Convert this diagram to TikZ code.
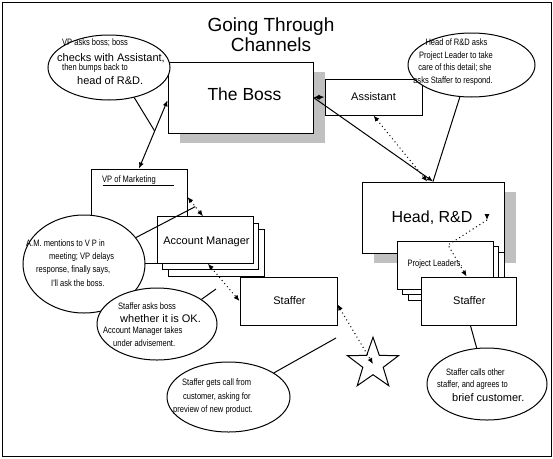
\documentclass[tikz,border=0pt]{standalone}
\usepackage{fontspec}
\setmainfont{Liberation Sans}
\newfontfamily\narrowfont[FakeStretch=0.81]{Liberation Sans}
\usetikzlibrary{shapes.geometric,arrows.meta,calc}
\definecolor{shadowgray}{HTML}{C0C0C0}
\tikzset{
  box/.style={draw, fill=white, line width=1pt, inner sep=0pt, rectangle},
  shadowbox/.style={fill=shadowgray, inner sep=0pt, rectangle},
  bubble/.style={draw, fill=white, line width=1pt, ellipse, inner sep=0pt},
  tip/.tip={Latex[length=6pt,width=5pt]},
  plainline/.style={line width=1pt},
  bothways/.style={line width=1pt, tip-tip},
  oneway/.style={line width=1pt, -tip},
  dotbothways/.style={line width=1pt, dash pattern=on 1pt off 3pt, tip-tip},
  dotoneway/.style={line width=1pt, dash pattern=on 1pt off 3pt, -tip},
  nar/.style={font=\narrowfont\fontsize{9.3}{11}\selectfont, inner sep=0pt, anchor=base west},
  narc/.style={font=\narrowfont\fontsize{9.3}{11}\selectfont, inner sep=0pt, anchor=base},
  nrm/.style={font=\fontsize{11}{13}\selectfont, inner sep=0pt, anchor=base west},
  lbl/.style={font=\fontsize{11}{13}\selectfont, inner sep=0pt, anchor=base},
}
\begin{document}
\begin{tikzpicture}[x=1pt,y=-1pt]
\useasboundingbox (0,0) rectangle (553,458);
\draw[line width=1pt] (2,2) rectangle (551,456);

% title
\node[font=\fontsize{19}{20}\selectfont, align=center, inner sep=0pt] (title) at (271,34.7) {Going Through\\Channels};

% The Boss and Assistant
\node[shadowbox, minimum width=145pt, minimum height=71pt] (bossShadow) at (252.5,107.5) {};
\node[box, minimum width=145pt, minimum height=71pt] (boss) at (240.5,97.5) {};
\node[box, minimum width=97pt, minimum height=36pt] (asst) at (373.5,97) {};

% Head R&D
\node[shadowbox, minimum width=142pt, minimum height=71pt] (headShadow) at (445,227.5) {};
\node[box, minimum width=142pt, minimum height=71pt] (head) at (433,217.5) {};

% Project Leaders stack
\node[box, minimum width=96pt, minimum height=48pt] (pl3) at (456,276) {};
\node[box, minimum width=96pt, minimum height=48pt] (pl2) at (450.5,270.5) {};
\node[box, minimum width=96pt, minimum height=48pt] (pl1) at (445,265) {};
\node[box, minimum width=95pt, minimum height=48pt] (st2) at (468.5,301) {};

% VP of Marketing
\node[box, minimum width=96pt, minimum height=94pt] (vp) at (139,216) {};
\draw[line width=1pt] ($(vp.north west)+(12,17)$) -- ($(vp.north west)+(83,17)$);

% Account Manager stack
\node[box, minimum width=96pt, minimum height=46.5pt] (am3) at (216,253) {};
\node[box, minimum width=96pt, minimum height=46.5pt] (am2) at (210.5,246.5) {};
\node[box, minimum width=96pt, minimum height=46.5pt] (am) at (205,240) {};
\node[box, minimum width=97pt, minimum height=48pt] (st1) at (288.5,301) {};

% bubbles
\node[bubble, minimum width=122pt, minimum height=65pt] (e1) at (109,67.5) {};
\node[bubble, minimum width=127pt, minimum height=64pt] (e4) at (471.5,65) {};
\node[bubble, minimum width=122pt, minimum height=98pt] (e2) at (84,264) {};
\node[bubble, minimum width=120pt, minimum height=72pt] (e3) at (157,324) {};
\node[bubble, minimum width=123pt, minimum height=70pt] (e5) at (228.5,397) {};
\node[bubble, minimum width=120pt, minimum height=72pt] (e6) at (487,384) {};

% star
\node[draw, line width=1pt, fill=white, star, star points=5, star point ratio=2.5, inner sep=0pt, minimum size=53.6pt] (star) at (373,364) {};

% connectors
\coordinate (bw) at ($(boss.north west)!0.54!(boss.south west)$);
\draw[bothways] (bw) -- (vp.north);
\coordinate (c1) at ($(bw)!0.45!(vp.north)$);
\draw[plainline] (e1.-50) -- (c1);

\draw[bothways] (boss.east) -- (asst.west);
\draw[oneway] (boss.east) -- (head.north);
\coordinate (hn) at ($(head.north west)!0.46!(head.north east)$);
\draw[dotbothways] (asst.south) -- (hn);
\draw[plainline] (e4.-110) -- (head.north);

\coordinate (vpe) at ($(vp.north east)!0.3!(vp.south east)$);
\coordinate (amn) at ($(am.north west)!0.48!(am.north east)$);
\draw[dotbothways] (vpe) -- (amn);
\draw[plainline] (e2.27) -- ($(vpe)!0.5!(amn)$);

\coordinate (ams) at ($(am.south west)!0.53!(am.south east)$);
\draw[dotbothways] (ams) -- (st1.west);
\coordinate (c3) at (216,289);
\draw[plainline] (e3.29) -- (c3);

\coordinate (ste) at ($(st1.north east)!0.57!(st1.south east)$);
\draw[dotbothways] (ste) -- (star.center);
\coordinate (c5) at (336,338);
\draw[plainline] (e5.28) -- (c5);

\coordinate (hd1) at ($(head.center)+(54,2.5)$);
\coordinate (hd2) at (448,245);
\coordinate (st2n) at ($(st2.north west)!0.48!(st2.north east)$);
\draw[dotoneway] (hd1) -- (hd2) -- (st2n);
\draw[oneway] ($(hd1)+(0,-6)$) -- (hd1);

\coordinate (st2s) at ($(st2.south west)!0.52!(st2.south east)$);
\draw[plainline] (st2s) -- (e6.106);

% box labels
\node[font=\fontsize{17.5}{20}\selectfont, inner sep=0pt, anchor=base] (bossLbl) at (244.5,100.7) {The Boss};
\node[lbl] (asstLbl) at (373.5,100) {Assistant};
\node[font=\fontsize{16}{18}\selectfont, inner sep=0pt, anchor=base] (headLbl) at (432,222.5) {Head, R\&D};
\node[narc] (plLbl) at (435,266.5) {Project Leaders.};
\node[lbl] (st2Lbl) at (469.3,304) {Staffer};
\node[nar] (vpLbl) at (102,182.5) {VP of Marketing};
\node[lbl] (amLbl) at (206.5,244) {Account Manager};
\node[lbl] (st1Lbl) at (289.5,304) {Staffer};

% bubble texts
\node[nar] (e1a) at (62,45.5) {VP asks boss; boss};
\node[nrm] (e1b) at (57,61) {checks with Assistant,};
\node[nar] (e1c) at (62,70) {then bumps back to};
\node[nrm] (e1d) at (77,84) {head of R\&D.};

\node[narc] (e4a) at (456.5,45.5) {Head of R\&D asks};
\node[narc] (e4b) at (456,58.5) {Project Leader to take};
\node[narc] (e4c) at (455,70.5) {care of this detail; she};
\node[narc] (e4d) at (453,83) {asks Staffer to respond.};

\node[nar] (e2a) at (26,246) {A.M. mentions to V P in};
\node[nar] (e2b) at (49,259) {meeting; VP delays};
\node[nar] (e2c) at (36,272) {response, finally says,};
\node[nar] (e2d) at (51,286.5) {I'll ask the boss.};

\node[nar] (e3a) at (118,309.5) {Staffer asks boss};
\node[nrm] (e3b) at (120,322.3) {whether it is OK.};
\node[nar] (e3c) at (103,333) {Account Manager takes};
\node[nar] (e3d) at (113,346.5) {under advisement.};

\node[nar] (e5a) at (182,385) {Staffer gets call from};
\node[nar] (e5b) at (183,399) {customer, asking for};
\node[nar] (e5c) at (173,412.5) {preview of new product.};

\node[nar] (e6a) at (446,375) {Staffer calls other};
\node[nar] (e6b) at (437,387) {staffer, and agrees to};
\node[nrm] (e6c) at (452,401.5) {brief customer.};
\end{tikzpicture}
\end{document}
